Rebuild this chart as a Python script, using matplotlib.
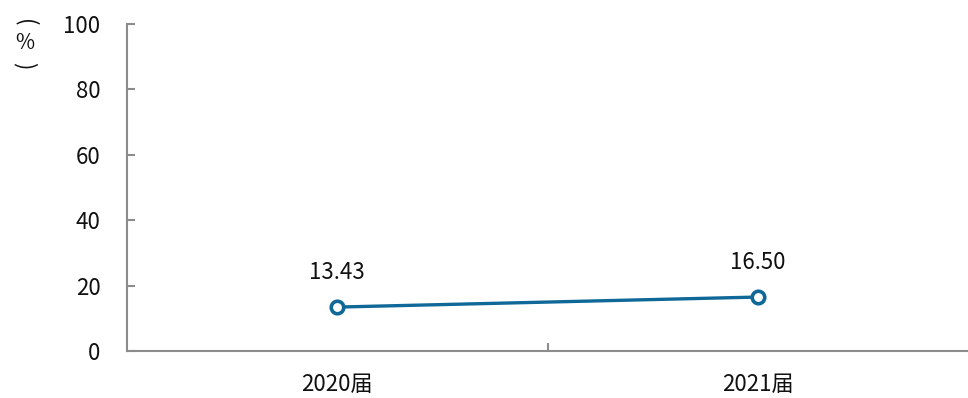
import matplotlib
matplotlib.use("Agg")
import matplotlib.pyplot as plt

# data
categories = ["2020届", "2021届"]
values = [13.43, 16.50]
value_labels = ["13.43", "16.50"]
y_ticks = [0, 20, 40, 60, 80, 100]

plt.rcParams["font.family"] = ["Noto Sans CJK SC", "DejaVu Sans"]

LINE = "#0f6897"
AXIS = "#8c8c8c"
TXT = "#111111"
FS = 16

fig = plt.figure(figsize=(9.68, 3.98), dpi=100)
ax = fig.add_axes([127 / 968, 47 / 398, 841 / 968, 327 / 398])

x = [i + 0.5 for i in range(len(categories))]
ax.plot(x, values, color=LINE, lw=2.4, marker="o", ms=9,
        mfc="white", mec=LINE, mew=2.6, zorder=3, clip_on=False)

for xi, v, lab in zip(x, values, value_labels):
    ax.annotate(lab, (xi, v), xytext=(0, 25), textcoords="offset points",
                ha="center", va="center", fontsize=FS, color=TXT)

ax.set_xlim(0, len(categories))
ax.set_ylim(0, 100)
ax.set_yticks(y_ticks)
ax.set_yticklabels([str(t) for t in y_ticks], fontsize=FS, color=TXT)

# category boundaries as ticks, labels centred between them
ax.set_xticks(range(1, len(categories)))
ax.set_xticklabels([])
ax.set_xticks(x, minor=True)
ax.set_xticklabels(categories, minor=True, fontsize=FS, color=TXT)
ax.tick_params(axis="x", which="minor", length=0, pad=16)
ax.tick_params(axis="x", which="major", direction="in", length=6,
               width=1.5, color=AXIS)
ax.tick_params(axis="y", direction="in", length=6, width=1.5,
               color=AXIS, pad=19)

for side in ["top", "right"]:
    ax.spines[side].set_visible(False)
for side in ["left", "bottom"]:
    ax.spines[side].set_color(AXIS)
    ax.spines[side].set_linewidth(1.5)

# vertical unit label: （%） stacked
ux = 25 / 968
fig.text(ux, 1 - 23 / 398, "(", rotation=-90, ha="center", va="center",
         fontsize=FS, color=TXT)
fig.text(ux, 1 - 43 / 398, "%", ha="center", va="center",
         fontsize=FS - 1, color=TXT)
fig.text(ux, 1 - 66 / 398, ")", rotation=-90, ha="center", va="center",
         fontsize=FS, color=TXT)

fig.savefig("out.png", dpi=100)
